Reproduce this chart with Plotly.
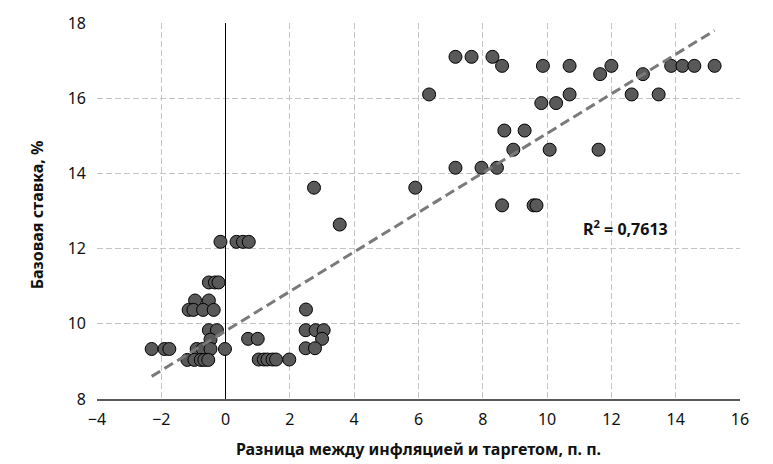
import numpy as np
import plotly.graph_objects as go

# Разница между инфляцией и таргетом (п. п.) и базовая ставка (%)
gap = [
    7.15, 7.65, 8.30, 8.60, 9.87, 10.70, 11.65, 12.00, 12.98, 13.86, 14.21, 14.58, 15.21,
    6.33, 10.70, 12.63, 13.47,
    9.82, 10.28,
    8.67, 9.30,
    8.95, 10.08, 11.60,
    7.15, 7.96, 8.44,
    5.90,
    8.60, 9.58, 9.67,
    2.75, 3.55,
    -0.16, 0.34, 0.54, 0.72,
    -0.52, -0.33, -0.22,
    -0.95, -0.52,
    -1.15, -1.00, -0.70, -0.37,
    -0.52, -0.27,
    -0.47,
    -2.30, -1.90, -1.75, -0.90, -0.71, -0.47, -0.02,
    -1.19, -0.97, -0.77, -0.66, -0.54,
    0.70, 1.00,
    1.03, 1.19, 1.30, 1.46, 1.57, 1.98,
    2.50,
    2.49, 2.80, 3.05,
    3.00,
    2.49, 2.78,
]
rate = [
    17.10, 17.10, 17.10, 16.86, 16.86, 16.86, 16.64, 16.86, 16.64, 16.86, 16.86, 16.86, 16.86,
    16.10, 16.10, 16.10, 16.10,
    15.87, 15.87,
    15.14, 15.14,
    14.63, 14.63, 14.63,
    14.15, 14.15, 14.15,
    13.62,
    13.15, 13.15, 13.15,
    13.62, 12.64,
    12.18, 12.18, 12.18, 12.18,
    11.10, 11.10, 11.10,
    10.62, 10.62,
    10.37, 10.37, 10.37, 10.37,
    9.83, 9.83,
    9.58,
    9.33, 9.33, 9.33, 9.33, 9.33, 9.33, 9.33,
    9.04, 9.04, 9.04, 9.04, 9.04,
    9.60, 9.60,
    9.05, 9.05, 9.05, 9.05, 9.05, 9.05,
    10.38,
    9.83, 9.83, 9.83,
    9.60,
    9.35, 9.35,
]

# Linear trend: slope and intercept of the fitted line, with its R² label
trend_slope = 0.5255
trend_intercept = 9.81
r2_text = "R<sup>2</sup> = 0,7613"

x_ticks = list(range(-4, 17, 2))
y_ticks = list(range(8, 19, 2))

FONT = "Noto Sans"

# The trend line spans the observed range of the gap
xa = np.array(gap)
trend_x = np.array([xa.min(), xa.max()])
trend_y = trend_intercept + trend_slope * trend_x

fig = go.Figure()

fig.add_trace(go.Scatter(
    x=gap, y=rate, mode="markers",
    marker=dict(size=13, color="#595959", line=dict(color="#000000", width=1)),
    hoverinfo="x+y", showlegend=False,
))

fig.add_trace(go.Scatter(
    x=trend_x, y=trend_y, mode="lines",
    line=dict(color="#7a7a7a", width=3, dash="10px,5px"),
    hoverinfo="skip", showlegend=False,
))

grid = dict(showgrid=True, gridcolor="#c4c4c4", gridwidth=1, griddash="6px,3px")

fig.update_xaxes(
    range=[-4, 16], tickvals=x_ticks, ticks="", **grid,
    zeroline=True, zerolinecolor="#000000", zerolinewidth=1,
    showline=True, linecolor="#595959", linewidth=2,
    tickfont=dict(family=FONT, size=16, color="#111111"),
    ticklabelstandoff=5,
)
fig.update_yaxes(
    range=[8, 18], tickvals=y_ticks, ticks="", **grid,
    zeroline=False, showline=False,
    tickfont=dict(family=FONT, size=16, color="#111111"),
    ticklabelstandoff=10,
)

fig.add_annotation(
    text=r2_text, x=12.45, y=12.55, xref="x", yref="y", showarrow=False,
    font=dict(family=FONT, size=16, color="#111111", weight="bold"),
)
fig.add_annotation(
    text="<b>Разница между инфляцией и таргетом, п. п.</b>",
    x=0.5, y=-0.134, xref="paper", yref="paper", showarrow=False,
    xanchor="center", yanchor="middle",
    font=dict(family=FONT, size=16, color="#111111"),
)
fig.add_annotation(
    text="<b>Базовая ставка, %</b>", textangle=-90,
    x=-0.094, y=0.49, xref="paper", yref="paper", showarrow=False,
    xanchor="center", yanchor="middle",
    font=dict(family=FONT, size=16, color="#111111"),
)

fig.update_layout(
    width=773, height=464,
    margin=dict(l=97, r=33, t=19, b=65),
    paper_bgcolor="white", plot_bgcolor="white",
    showlegend=False,
)

fig.write_html("out.html")
